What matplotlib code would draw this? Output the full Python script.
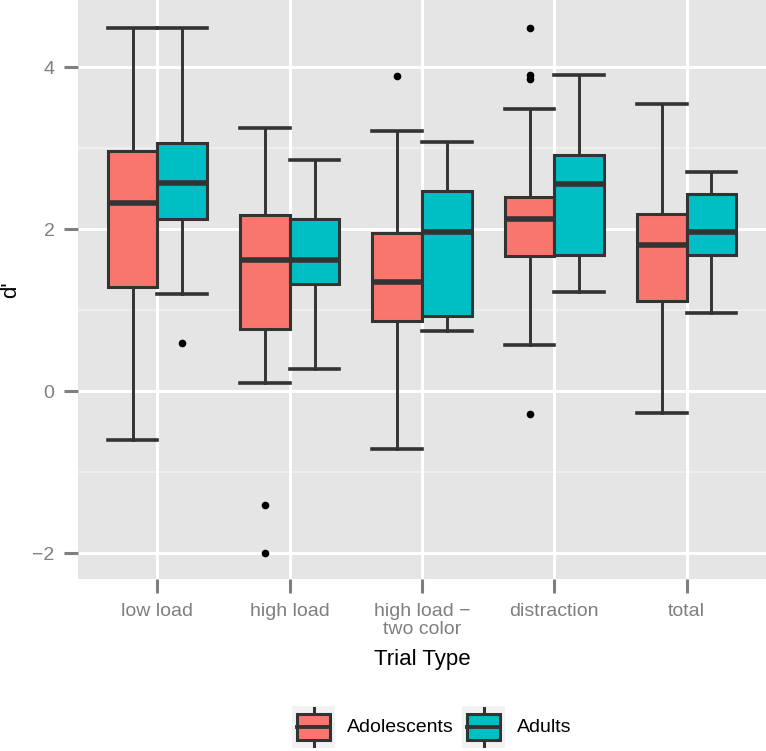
import numpy as np
import matplotlib.pyplot as plt
from matplotlib.patches import Rectangle

plt.rcParams['font.family'] = ['Liberation Sans', 'DejaVu Sans']

categories = ['low load', 'high load', 'high load \u2212\ntwo color', 'distraction', 'total']
groups = ['Adolescents', 'Adults']
colors = ['#F8766D', '#00BFC4']

# per-group box stats: whislo, q1, med, q3, whishi
adol_whislo = [-0.60, 0.10, -0.72, 0.57, -0.27]
adol_q1 = [1.28, 0.77, 0.87, 1.67, 1.11]
adol_med = [2.32, 1.62, 1.35, 2.12, 1.81]
adol_q3 = [2.96, 2.17, 1.95, 2.40, 2.19]
adol_whishi = [4.48, 3.25, 3.21, 3.49, 3.54]
adol_fliers = [[], [-1.41, -2.0], [3.89], [4.48, 3.91, 3.86, -0.28], []]

adult_whislo = [1.20, 0.27, 0.74, 1.22, 0.96]
adult_q1 = [2.12, 1.32, 0.93, 1.68, 1.68]
adult_med = [2.57, 1.62, 1.96, 2.56, 1.96]
adult_q3 = [3.07, 2.12, 2.47, 2.92, 2.44]
adult_whishi = [4.48, 2.86, 3.08, 3.91, 2.70]
adult_fliers = [[0.59], [], [], [], []]


def make_stats(lo, q1, med, q3, hi, fl):
    return [dict(whislo=lo[i], q1=q1[i], med=med[i], q3=q3[i], whishi=hi[i], fliers=fl[i])
            for i in range(len(lo))]


all_stats = [make_stats(adol_whislo, adol_q1, adol_med, adol_q3, adol_whishi, adol_fliers),
             make_stats(adult_whislo, adult_q1, adult_med, adult_q3, adult_whishi, adult_fliers)]

W, H = 766, 751
fig = plt.figure(figsize=(W / 100, H / 100), dpi=100)
ax = fig.add_axes([78 / W, (H - 579) / H, (W - 78) / W, 579 / H])
ax.set_facecolor('#E5E5E5')

line_col = '#333333'
width = 0.375
x = np.arange(1, len(categories) + 1)
for g, stats in enumerate(all_stats):
    pos = x + (g - 0.5) * width
    ax.bxp(stats, positions=pos, widths=width, patch_artist=True, manage_ticks=False,
           capwidths=width,
           boxprops=dict(facecolor=colors[g], edgecolor=line_col, linewidth=2.2),
           whiskerprops=dict(color=line_col, linewidth=2.1),
           capprops=dict(color=line_col, linewidth=2.6),
           medianprops=dict(color=line_col, linewidth=4.0, solid_capstyle='butt'),
           flierprops=dict(marker='o', markerfacecolor='black', markeredgecolor='black',
                           markersize=4.5, linestyle='none'),
           zorder=3)

ax.set_xlim(0.4, len(categories) + 0.6)
ax.set_ylim(-2.32, 4.83)

# grid
for yv in [-1, 1, 3]:
    ax.axhline(yv, color='#F2F2F2', linewidth=1.1, zorder=1)
for yv in [-2, 0, 2, 4]:
    ax.axhline(yv, color='white', linewidth=2.2, zorder=1)
for xv in x:
    ax.axvline(xv, color='white', linewidth=2.2, zorder=1)

for s in ax.spines.values():
    s.set_visible(False)

ax.set_xticks(x)
ax.set_xticklabels(categories, fontsize=14, color='#7F7F7F', linespacing=1.1)
ax.set_yticks([-2, 0, 2, 4])
ax.set_yticklabels(['\u22122', '0', '2', '4'], fontsize=14, color='#7F7F7F')
ax.tick_params(axis='both', color='#7F7F7F', width=2.2, length=10, pad=7)

ax.set_xlabel('Trial Type', fontsize=16, labelpad=8)
ax.set_ylabel("d'", fontsize=16, labelpad=8)

# legend keys drawn as small box glyphs
key_x = [292, 462]
text_x = [347, 517]
for g in range(2):
    kax = fig.add_axes([key_x[g] / W, (H - 748) / H, 43 / W, 42 / H])
    kax.set_xlim(0, 1)
    kax.set_ylim(0, 1)
    kax.axis('off')
    kax.add_patch(Rectangle((0, 0), 1, 1, facecolor='#F2F2F2', edgecolor='none'))
    kax.plot([0.5, 0.5], [0.05, 0.95], color=line_col, linewidth=2.2)
    kax.add_patch(Rectangle((0.12, 0.2), 0.76, 0.6, facecolor=colors[g],
                            edgecolor=line_col, linewidth=2.2, zorder=3))
    kax.plot([0.12, 0.88], [0.5, 0.5], color=line_col, linewidth=2.8, zorder=4)
    fig.text(text_x[g] / W, 1 - 727 / H, groups[g], fontsize=14, va='center', ha='left')

fig.savefig('out.png', dpi=100)
